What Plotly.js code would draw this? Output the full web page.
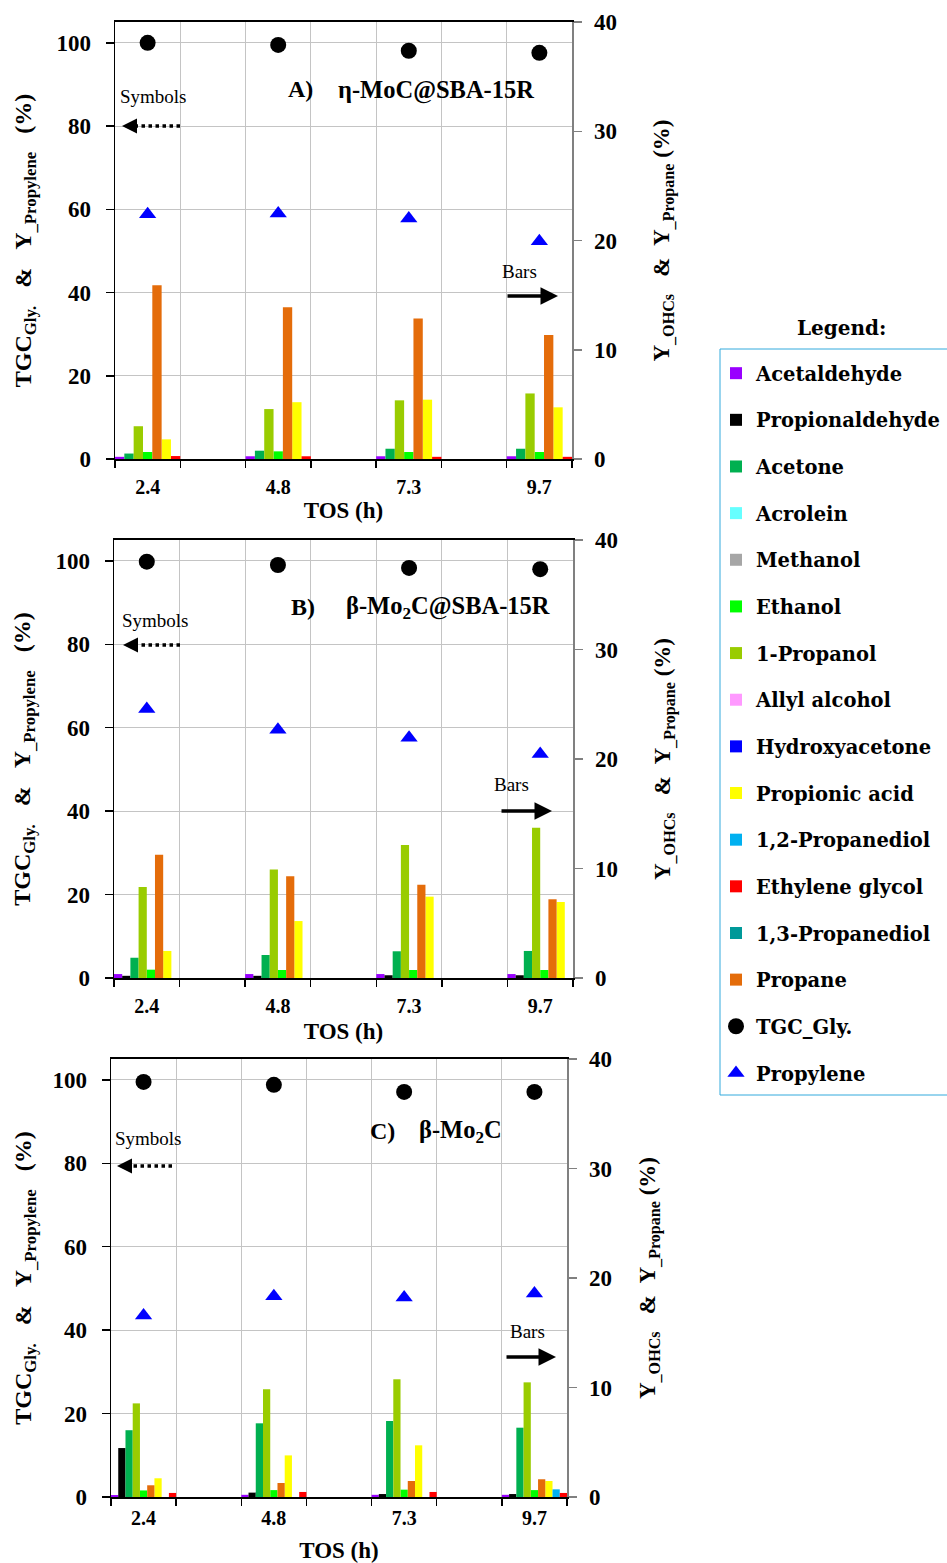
<!DOCTYPE html>
<html><head><meta charset="utf-8">
<script src="https://cdn.plot.ly/plotly-3.0.1.min.js"></script>
<style>html,body{margin:0;padding:0;background:#fff}#chart{width:947px;height:1563px}</style>
</head><body><div id="chart"></div>
<script>
// ---------------- DATA ----------------
const tosLabels = ['2.4', '4.8', '7.3', '9.7'];
const seriesNames = ['Acetaldehyde', 'Propionaldehyde', 'Acetone', 'Acrolein', 'Methanol', 'Ethanol',
  '1-Propanol', 'Allyl alcohol', 'Hydroxyacetone', 'Propionic acid', '1,2-Propanediol',
  'Ethylene glycol', '1,3-Propanediol', 'Propane'];
const seriesColors = ['#9900FF', '#000000', '#00B050', '#66FFFF', '#A6A6A6', '#00FF00',
  '#99CC00', '#FF99FF', '#0000FF', '#FFFF00', '#00B0F0', '#FF0000', '#009999', '#E46C0A'];
const panelLetters = ['A)', 'B)', 'C)'];
const catalystNames = ['\u03B7-MoC@SBA-15R', '\u03B2-Mo<sub>2</sub>C@SBA-15R', '\u03B2-Mo<sub>2</sub>C'];

// Conversion of glycerol (left axis, %)
const tgcA = [100, 99.5, 98.1, 97.6];
const tgcB = [99.8, 99.0, 98.3, 98.0];
const tgcC = [99.5, 98.8, 97.1, 97.1];
// Propylene yield (left axis, %)
const propyleneA = [58.8, 59.0, 57.8, 52.3];
const propyleneB = [64.5, 59.5, 57.6, 53.7];
const propyleneC = [43.5, 48.1, 47.8, 48.8];

// Bar yields (right axis, %), one row per series in seriesNames order
const barsA = [
  [0.2, 0.25, 0.25, 0.25],     // Acetaldehyde
  [0, 0, 0, 0],                // Propionaldehyde
  [0.5, 0.76, 0.94, 0.94],     // Acetone
  [0, 0, 0, 0],                // Acrolein
  [0, 0, 0, 0],                // Methanol
  [0.64, 0.7, 0.64, 0.64],     // Ethanol
  [3.0, 4.57, 5.37, 6.0],      // 1-Propanol
  [0, 0, 0, 0],                // Allyl alcohol
  [0, 0, 0, 0],                // Hydroxyacetone
  [1.8, 5.2, 5.43, 4.73],      // Propionic acid
  [0, 0, 0, 0],                // 1,2-Propanediol
  [0.27, 0.25, 0.2, 0.2],      // Ethylene glycol
  [0, 0, 0, 0],                // 1,3-Propanediol
  [15.9, 13.9, 12.87, 11.35]   // Propane
];
const barsB = [
  [0.36, 0.36, 0.36, 0.36],    // Acetaldehyde
  [0.2, 0.2, 0.25, 0.25],      // Propionaldehyde
  [1.85, 2.1, 2.44, 2.47],     // Acetone
  [0, 0, 0, 0],                // Acrolein
  [0, 0, 0, 0],                // Methanol
  [0.76, 0.73, 0.73, 0.73],    // Ethanol
  [8.3, 9.9, 12.15, 13.73],    // 1-Propanol
  [0, 0, 0, 0],                // Allyl alcohol
  [0, 0, 0, 0],                // Hydroxyacetone
  [2.47, 5.2, 7.43, 6.94],     // Propionic acid
  [0, 0, 0, 0],                // 1,2-Propanediol
  [0, 0, 0, 0],                // Ethylene glycol
  [0, 0, 0, 0],                // 1,3-Propanediol
  [11.26, 9.29, 8.52, 7.19]    // Propane
];
const barsC = [
  [0.18, 0.2, 0.2, 0.2],       // Acetaldehyde
  [4.47, 0.4, 0.27, 0.27],     // Propionaldehyde
  [6.1, 6.73, 6.94, 6.33],     // Acetone
  [0, 0, 0, 0],                // Acrolein
  [0, 0, 0, 0],                // Methanol
  [0.6, 0.63, 0.67, 0.63],     // Ethanol
  [8.55, 9.84, 10.75, 10.47],  // 1-Propanol
  [0, 0, 0, 0],                // Allyl alcohol
  [0, 0, 0, 0],                // Hydroxyacetone
  [1.71, 3.8, 4.72, 1.46],     // Propionic acid
  [0, 0, 0, 0.7],              // 1,2-Propanediol
  [0.37, 0.46, 0.46, 0.37],    // Ethylene glycol
  [0, 0, 0, 0],                // 1,3-Propanediol
  [1.07, 1.28, 1.46, 1.62]     // Propane
];

// ---------------- LAYOUT HELPERS ----------------
const W = 947, H = 1563;
const px = x => x / W;
const py = y => 1 - y / H;
const SERIF = 'Liberation Serif, Times New Roman, serif';

const panels = [
  {bars: barsA, tgc: tgcA, prop: propyleneA, g: {x0: 115, x1: 572, y0: 22, y1: 459},
   ax: {xlab: 9, xtitle: 0, ltitle: 18, rtitle: 37},
   slots: ['Acetaldehyde', 'Acetone', '1-Propanol', 'Ethanol', 'Propane', 'Propionic acid', 'Ethylene glycol'],
   txt: {sym: [153, 97], dash: [180, 130, 122, 126], letter: [286, 89], cat: [336, 90], bars: [519, 271], arrow: [506, 558, 296]}},
  {bars: barsB, tgc: tgcB, prop: propyleneB, g: {x0: 114, x1: 573, y0: 540, y1: 978},
   ax: {xlab: 9, xtitle: 7, ltitle: 18, rtitle: 37},
   slots: ['Acetaldehyde', 'Propionaldehyde', 'Acetone', '1-Propanol', 'Ethanol', 'Propane', 'Propionic acid', 'Ethylene glycol'],
   txt: {sym: [155, 620], dash: [180, 131, 123, 645], letter: [289, 607], cat: [344, 607], bars: [512, 784], arrow: [500, 552, 811]}},
  {bars: barsC, tgc: tgcC, prop: propyleneC, g: {x0: 111, x1: 567, y0: 1059, y1: 1497},
   ax: {xlab: 2, xtitle: 18, ltitle: 14, rtitle: 28},
   slots: ['Acetaldehyde', 'Propionaldehyde', 'Acetone', '1-Propanol', 'Ethanol', 'Propane', 'Propionic acid', '1,2-Propanediol', 'Ethylene glycol'],
   txt: {sym: [148, 1138], dash: [172, 125, 117, 1166], letter: [368, 1131], cat: [417, 1131], bars: [527, 1331], arrow: [505, 556, 1357]}}
];

const categoryArray = ['2.4', ' ', '4.8', '  ', '7.3', '   ', '9.7'];

const data = [];
const layout = {
  width: W, height: H,
  margin: {l: 0, r: 0, t: 0, b: 0, autoexpand: false},
  paper_bgcolor: '#ffffff', plot_bgcolor: '#ffffff',
  font: {family: SERIF, color: '#000000'},
  barmode: 'overlay',
  showlegend: true,
  legend: {
    x: px(716), y: py(354), xanchor: 'left', yanchor: 'top',
    bgcolor: 'rgba(0,0,0,0)', borderwidth: 0,
    font: {family: 'DejaVu Serif', size: 19.5, weight: 'bold', color: '#000000'},
    tracegroupgap: 18.3, itemwidth: 30
  },
  annotations: [],
  shapes: [{
    type: 'rect', xref: 'paper', yref: 'paper', layer: 'below',
    x0: px(720), x1: px(960), y0: py(1095), y1: py(349),
    line: {color: '#33AADD', width: 1}, fillcolor: '#ffffff'
  }]
};

panels.forEach((p, i) => {
  const xid = i === 0 ? 'x' : 'x' + (i + 1);
  const yl = i === 0 ? 'y' : 'y' + (2 * i + 1);
  const yr = 'y' + (2 * i + 2);
  const xkey = i === 0 ? 'xaxis' : 'xaxis' + (i + 1);
  const ylkey = i === 0 ? 'yaxis' : 'yaxis' + (2 * i + 1);
  const yrkey = 'yaxis' + (2 * i + 2);
  const g = p.g;
  const n = p.slots.length;

  seriesNames.forEach((name, s) => {
    const slot = p.slots.indexOf(name);
    data.push({
      type: 'bar', name: name, x: tosLabels, y: p.bars[s],
      xaxis: xid, yaxis: yr,
      offset: -0.5 + (slot < 0 ? 0 : slot) / n, width: 1 / n,
      marker: {color: seriesColors[s], line: {width: 0}},
      legendgroup: name, showlegend: i === 2, legendrank: s + 1,
      hovertemplate: name + ': %{y}%<extra></extra>'
    });
  });
  data.push({
    type: 'scatter', mode: 'markers', name: 'TGC_Gly.', x: tosLabels, y: p.tgc,
    xaxis: xid, yaxis: yl, marker: {symbol: 'circle', size: 16, color: '#000000'},
    legendgroup: 'TGC_Gly.', showlegend: i === 2, legendrank: 15
  });
  data.push({
    type: 'scatter', mode: 'markers', name: 'Propylene', x: tosLabels, y: p.prop,
    xaxis: xid, yaxis: yl, marker: {symbol: 'triangle-up', size: 15, color: '#0000FF'},
    legendgroup: 'Propylene', showlegend: i === 2, legendrank: 16
  });

  layout[xkey] = {
    domain: [px(g.x0), px(g.x1)], anchor: yl,
    type: 'category', categoryorder: 'array', categoryarray: categoryArray,
    range: [-0.5, 6.5], tickson: 'boundaries',
    ticks: 'outside', ticklen: 7, tickwidth: 1.5, tickcolor: '#000000',
    ticklabelstandoff: p.ax.xlab,
    showgrid: true, gridcolor: '#C4C4C4', gridwidth: 1,
    showline: true, linecolor: '#000000', linewidth: 2, mirror: true,
    zeroline: false, fixedrange: true,
    tickfont: {family: SERIF, size: 20, weight: 'bold'},
    automargin: true,
    title: {text: 'TOS (h)', font: {family: SERIF, size: 23, weight: 'bold'}, standoff: p.ax.xtitle}
  };
  layout[ylkey] = {
    domain: [py(g.y1), py(g.y0)], anchor: xid,
    range: [0, 105], tick0: 0, dtick: 20, tickmode: 'linear',
    ticks: 'outside', ticklen: 8, tickwidth: 1.5, tickcolor: '#000000',
    ticklabelstandoff: 10,
    showgrid: true, gridcolor: '#C4C4C4', gridwidth: 1,
    showline: true, linecolor: '#000000', linewidth: 1.5, zeroline: false,
    tickfont: {family: SERIF, size: 23, weight: 'bold'},
    automargin: true, fixedrange: true,
    title: {text: 'TGC<sub>Gly.</sub>\u00A0\u00A0\u00A0&amp;\u00A0\u00A0\u00A0Y<sub>_Propylene</sub>\u00A0\u00A0\u00A0(%)',
      font: {family: SERIF, size: 24, weight: 'bold'}, standoff: p.ax.ltitle}
  };
  layout[yrkey] = {
    overlaying: yl, side: 'right', anchor: xid,
    range: [0, 40], tick0: 0, dtick: 10, tickmode: 'linear',
    ticks: 'outside', ticklen: 8, tickwidth: 1.5, tickcolor: '#808080',
    ticklabelstandoff: 8,
    showgrid: false, showline: true, linecolor: '#808080', linewidth: 1.5, zeroline: false,
    tickfont: {family: SERIF, size: 23, weight: 'bold'},
    automargin: true, fixedrange: true,
    title: {text: 'Y<sub>_OHCs</sub>\u00A0\u00A0\u00A0&amp;\u00A0\u00A0Y<sub>_Propane</sub>\u00A0(%)',
      font: {family: SERIF, size: 23, weight: 'bold'}, standoff: p.ax.rtitle}
  };

  const t = p.txt;
  layout.annotations.push(
    {xref: 'paper', yref: 'paper', x: px(t.sym[0]), y: py(t.sym[1]), text: 'Symbols', showarrow: false,
     xanchor: 'center', yanchor: 'middle', font: {family: SERIF, size: 19}},
    {xref: 'paper', yref: 'paper', x: px(t.letter[0]), y: py(t.letter[1]), text: panelLetters[i], showarrow: false,
     xanchor: 'left', yanchor: 'middle', font: {family: SERIF, size: 24, weight: 'bold'}},
    {xref: 'paper', yref: 'paper', x: px(t.cat[0]), y: py(t.cat[1]), text: catalystNames[i], showarrow: false,
     xanchor: 'left', yanchor: 'middle', font: {family: SERIF, size: 24.5, weight: 'bold'}},
    {xref: 'paper', yref: 'paper', x: px(t.bars[0]), y: py(t.bars[1]), text: 'Bars', showarrow: false,
     xanchor: 'center', yanchor: 'middle', font: {family: SERIF, size: 19}},
    // arrowhead of the dotted "Symbols" arrow
    {xref: 'paper', yref: 'paper', x: px(t.dash[2]), y: py(t.dash[3]), text: '', showarrow: true,
     ax: 14, ay: 0, arrowhead: 2, arrowsize: 1, arrowwidth: 3, arrowcolor: '#000000', standoff: 0},
    // solid "Bars" arrow
    {xref: 'paper', yref: 'paper', x: px(t.arrow[1]), y: py(t.arrow[2]), text: '', showarrow: true,
     ax: -(t.arrow[1] - t.arrow[0]), ay: 0, arrowhead: 2, arrowsize: 1, arrowwidth: 3.5, arrowcolor: '#000000', standoff: 0}
  );
  layout.shapes.push({
    type: 'line', xref: 'paper', yref: 'paper',
    x0: px(t.dash[0]), x1: px(t.dash[1]), y0: py(t.dash[3]), y1: py(t.dash[3]),
    line: {color: '#000000', width: 3.5, dash: 'dot'}
  });
});

layout.annotations.push({
  xref: 'paper', yref: 'paper', x: px(841), y: py(328), text: 'Legend:', showarrow: false,
  xanchor: 'center', yanchor: 'middle', font: {family: 'DejaVu Serif', size: 20, weight: 'bold'}
});

Plotly.newPlot('chart', data, layout, {displayModeBar: false, staticPlot: true});
</script>
</body></html>
